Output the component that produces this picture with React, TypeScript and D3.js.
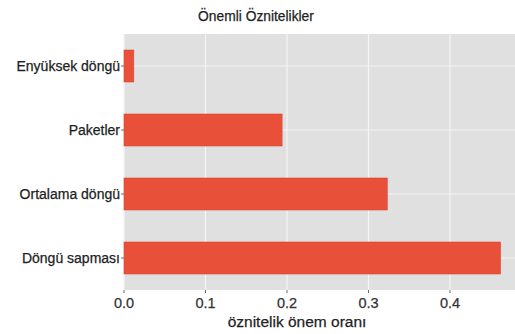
import React from "react";
import * as d3 from "d3";

const categories = ["Enyüksek döngü", "Paketler", "Ortalama döngü", "Döngü sapması"];
const values = [0.012, 0.194, 0.323, 0.462];
const xTicks = [0, 0.1, 0.2, 0.3, 0.4];
const title = "Önemli Öznitelikler";
const xTitle = "öznitelik önem oranı";

const W = 515;
const H = 334;
const M = { left: 124, right: 0, top: 34, bottom: 44 };

export default function App() {
  const x = d3.scaleLinear().domain([0, 0.4]).range([M.left, 450]);
  const y = d3
    .scaleBand<string>()
    .domain(categories)
    .range([M.top, H - M.bottom])
    .paddingInner(0.5)
    .paddingOuter(0.25);
  const font = "Liberation Sans, Arial, sans-serif";
  const txt = { stroke: "currentColor", strokeWidth: 0.25 } as const;
  return (
    <svg
      width={W}
      height={H}
      style={{ position: "absolute", left: 0, top: 0, background: "#fff" }}
      fontFamily={font}
    >
      <rect x={M.left} y={M.top} width={W - M.left - M.right} height={H - M.top - M.bottom} fill="#e0e0e0" />
      {xTicks.map((t) => (
        <line key={"gx" + t} x1={x(t)} x2={x(t)} y1={M.top} y2={H - M.bottom} stroke="#f4f4f4" strokeWidth={1.2} />
      ))}
      {categories.map((c) => {
        const cy = (y(c) as number) + y.bandwidth() / 2;
        return <line key={"gy" + c} x1={M.left} x2={W - M.right} y1={cy} y2={cy} stroke="#f4f4f4" strokeWidth={1.2} />;
      })}
      {categories.map((c, i) => (
        <rect
          key={"b" + c}
          x={x(0)}
          y={y(c) as number}
          width={x(values[i]) - x(0)}
          height={y.bandwidth()}
          fill="#e8503a"
          stroke="#d9452f"
          strokeWidth={0.6}
        />
      ))}
      {categories.map((c) => {
        const cy = (y(c) as number) + y.bandwidth() / 2;
        return (
          <g key={"yl" + c} style={{ color: "#1e1e1e" }}>
            <line x1={M.left - 3} x2={M.left} y1={cy} y2={cy} stroke="#666" strokeWidth={1} />
            <text x={M.left - 4} y={cy} dy="0.36em" textAnchor="end" fontSize={14} fill="#1e1e1e" {...txt}>
              {c}
            </text>
          </g>
        );
      })}
      {xTicks.map((t) => (
        <g key={"xl" + t} style={{ color: "#333" }}>
          <line x1={x(t)} x2={x(t)} y1={H - M.bottom} y2={H - M.bottom + 3} stroke="#666" strokeWidth={1} />
          <text x={x(t)} y={308} textAnchor="middle" fontSize={14.5} fill="#333" {...txt}>
            {d3.format(".1f")(t)}
          </text>
        </g>
      ))}
      <text x={297} y={327} textAnchor="middle" fontSize={15.5} fill="#1e1e1e" style={{ color: "#1e1e1e" }} {...txt}>
        {xTitle}
      </text>
      <text x={256} y={21} textAnchor="middle" fontSize={13.8} fill="#1e1e1e" style={{ color: "#1e1e1e" }} {...txt}>
        {title}
      </text>
    </svg>
  );
}
